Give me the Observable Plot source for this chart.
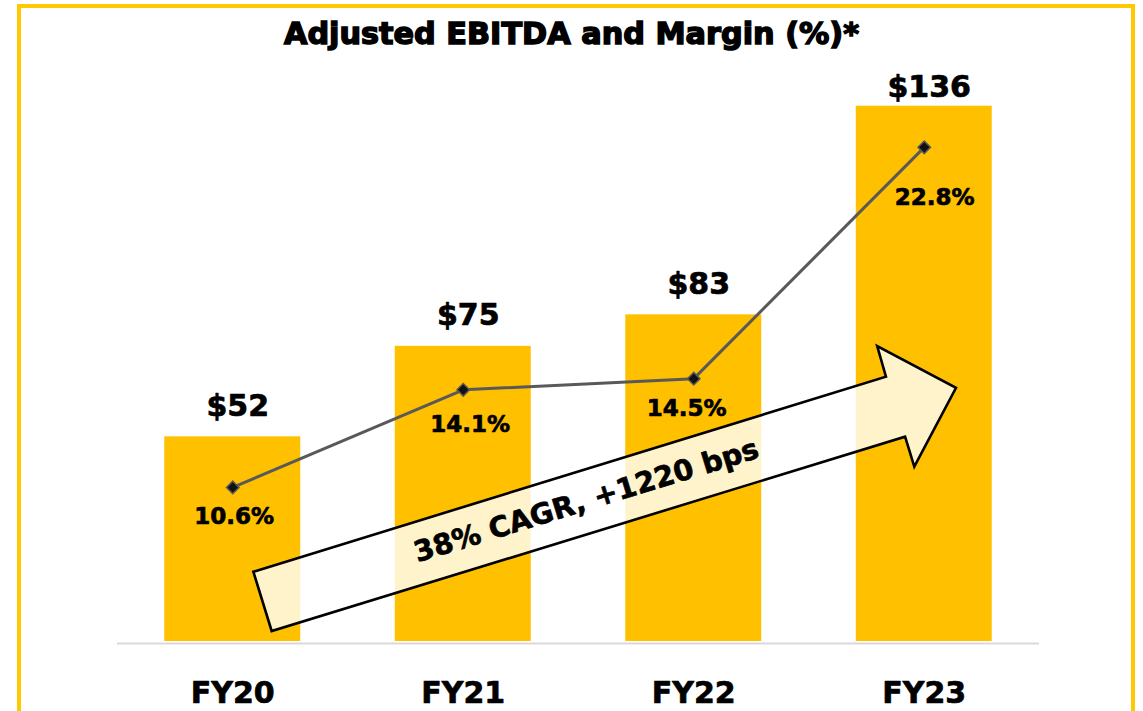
<!DOCTYPE html>
<html>
<head>
<meta charset="utf-8">
<script src="https://cdn.jsdelivr.net/npm/d3@7"></script>
<script src="https://cdn.jsdelivr.net/npm/@observablehq/plot@0.6"></script>
<style>
  html, body { margin: 0; padding: 0; background: #fff; overflow: hidden; }
  #page { position: relative; width: 1143px; height: 711px; }
  #title { position: absolute; left: 0; top: 0; width: 1143px; height: 60px; box-sizing: border-box;
           padding-top: 19px; text-align: center; font: bold 30.3px/30px "DejaVu Sans", sans-serif; color: #000;
           -webkit-text-stroke: 1.5px #000; }
  #chart { position: absolute; left: 0; top: 60px; }
  #chart svg text { stroke: #000; stroke-width: 0.7px; stroke-linejoin: round; }
  #frame { position: absolute; left: 17px; top: 4px; width: 1110px; height: 800px;
           border: 4.5px solid #FFC800; border-bottom: none; pointer-events: none; }
</style>
</head>
<body>
<div id="page">
  <div id="title">Adjusted EBITDA and Margin (%)*</div>
  <div id="chart"></div>
  <div id="frame"></div>
</div>
<script>
// ---- data ----
const years = ["FY20", "FY21", "FY22", "FY23"];
const ebitda = [52, 75, 83, 136];          // $ millions
const marginPct = [10.6, 14.1, 14.5, 22.8]; // %
const arrowText = "38% CAGR, +1220 bps";

const rows = years.map((y, i) => ({year: y, ebitda: ebitda[i], margin: marginPct[i]}));

// ---- scales / layout ----
const Y_MAX = 140;
// secondary (margin %) axis mapped onto the primary value axis
const marginToY = d3.scaleLinear().domain([5.07, 24.84]).range([0, Y_MAX]);
const marginLabelNudge = [[1.5, 37], [7, 42], [-7, 37], [10.5, 58]];
const FONT = "'DejaVu Sans', sans-serif";

const plot = Plot.plot({
  width: 1143,
  height: 651,
  marginTop: 30,
  marginBottom: 70,
  marginLeft: 117,
  marginRight: 104,
  style: {fontFamily: FONT, fontWeight: "bold", background: "transparent", overflow: "visible", color: "#000"},
  x: {domain: years, paddingInner: 0.41, paddingOuter: 0.205, round: false, label: null},
  y: {domain: [0, Y_MAX], axis: null},
  marks: [
    Plot.barY(rows, {x: "year", y: "ebitda", fill: "#FFC000"}),
    Plot.ruleY([0], {stroke: "#D9D9D9", strokeWidth: 2, dy: 2}),
    Plot.axisX({tickSize: 0, tickPadding: 40, fontSize: 30, fontWeight: "bold", fill: "#000", label: null}),
    Plot.line(rows, {x: "year", y: d => marginToY(d.margin), stroke: "#595959", strokeWidth: 3}),
    Plot.dot(rows, {x: "year", y: d => marginToY(d.margin), symbol: "square", rotate: 45, r: 5,
                    fill: "#111", stroke: "#595959", strokeWidth: 1.5}),
    Plot.text(rows, {x: "year", y: d => Math.min(d.ebitda + 5.3, Y_MAX - 1.7), text: d => "$" + d.ebitda,
                     lineAnchor: "bottom", fontSize: 30, fontWeight: "bold", fill: "#000", dx: 5}),
    ...rows.map((r, i) => Plot.text([r], {x: "year", y: d => marginToY(d.margin), text: d => d.margin.toFixed(1) + "%",
                     lineAnchor: "bottom", fontSize: 23, fontWeight: "bold", fill: "#000",
                     dx: marginLabelNudge[i][0], dy: marginLabelNudge[i][1]}))
  ]
});
document.getElementById("chart").appendChild(plot);

// ---- growth arrow annotation (in data units: x = category index position, y = value) ----
const arrowShape = [[0.0915, 17.6], [2.836, 67.15], [2.798, 74.95], [3.140, 64.35],
                    [2.959, 44.28], [2.919, 51.9], [0.171, 2.54]];
const arrowLabelAt = [1.535, 35.8];
const arrowAngle = -17.1;

const xs = plot.scale("x"), ys = plot.scale("y");
const px = p => xs.apply(years[0]) + xs.bandwidth / 2 + p * xs.step;
const py = v => ys.apply(v);

const svg = d3.select(plot);
const g = svg.append("g").attr("aria-label", "arrow");
g.append("path")
  .attr("d", "M" + arrowShape.map(([a, b]) => px(a) + "," + py(b)).join("L") + "Z")
  .attr("fill", "#fff").attr("fill-opacity", 0.8)
  .attr("stroke", "#000").attr("stroke-width", 2.6).attr("stroke-linejoin", "miter");
const tx = px(arrowLabelAt[0]), ty = py(arrowLabelAt[1]);
g.append("text")
  .attr("transform", `translate(${tx},${ty}) rotate(${arrowAngle})`)
  .attr("text-anchor", "middle").attr("dy", "0.35em")
  .attr("font-family", FONT).attr("font-weight", "bold").attr("font-size", 28.5).attr("fill", "#000")
  .text(arrowText);
const barG = plot.querySelector('g[aria-label="bar"]');
if (barG) barG.after(g.node());
</script>
</body>
</html>
